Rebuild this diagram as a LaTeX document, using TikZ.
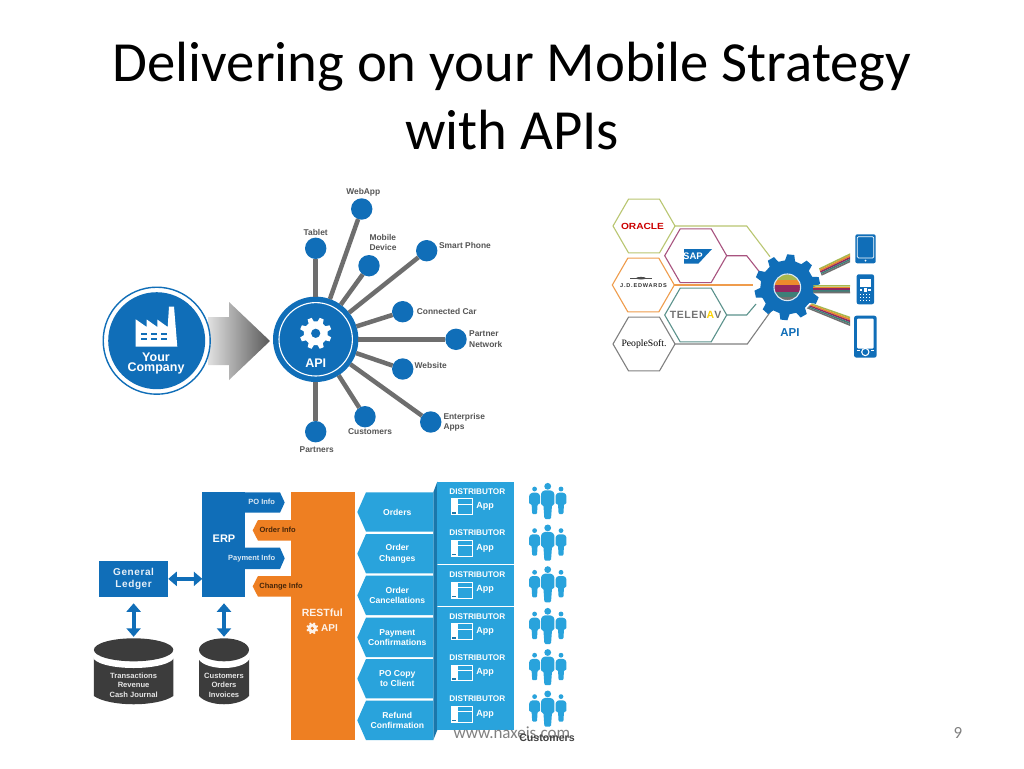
\documentclass[tikz,border=0pt]{standalone}
\usepackage{fontspec}
\usepackage{graphicx}
\setmainfont{Carlito}
\setsansfont{Liberation Sans}
\usetikzlibrary{arrows.meta,calc,shapes.geometric}
\definecolor{db}{HTML}{106EB8}
\definecolor{lb}{HTML}{29A3DC}
\definecolor{fold}{HTML}{1A77AB}
\definecolor{ora}{HTML}{EE7F22}
\definecolor{spoke}{HTML}{6E6E6E}
\definecolor{labgray}{HTML}{555555}
\definecolor{cyl}{HTML}{3C3C3C}
\definecolor{bandA}{HTML}{A7B84E}
\definecolor{bandB}{HTML}{EC8A2C}
\definecolor{bandC}{HTML}{92285F}
\definecolor{bandD}{HTML}{3E7F78}
\definecolor{bandE}{HTML}{707070}
\newcommand{\fsz}[1]{\fontsize{#1}{#1}\selectfont}
\newcommand{\geardraw}[7]{% cx cy teeth outer root colour rotation
  \pgfmathsetmacro{\gs}{360/#3}
  \begin{scope}[shift={(#1,#2)},rotate=#7]
  \fill[#6] ({-0.3*\gs}:#5) \foreach \k in {1,...,#3} {
     -- ({(\k-1)*\gs-0.17*\gs}:#4) -- ({(\k-1)*\gs+0.17*\gs}:#4) -- ({(\k-1)*\gs+0.3*\gs}:#5) -- ({\k*\gs-0.3*\gs}:#5)
  } -- cycle;
  \end{scope}}
\newcommand{\bandfan}[4]{%
  \foreach \c/\p/\q in {bandA/0/0.2,bandB/0.2/0.4,bandC/0.4/0.6,bandD/0.6/0.8,bandE/0.8/1}{
    \fill[\c] ($(#1)!\p!(#2)$) -- ($(#3)!\p!(#4)$) -- ($(#3)!\q!(#4)$) -- ($(#1)!\q!(#2)$) -- cycle;
  }}
\newcommand{\chevrow}[3]{%
  \fill[lb] (433.3,#1) -- (366,#1) -- (357.3,#1+19.7) -- (366,#1+39.4) -- (433.3,#1+39.4) -- cycle;
  \node[chevtxt] (#2) at (397.3,#1+19.7) {#3};}
\newcommand{\distrow}[2]{%
  \fill[lb] (437.3,#1) rectangle (514.3,#1+40.8);
  \node[disttxt] (#2d) at (477.3,#1+9.6) {DISTRIBUTOR};
  \draw[white,line width=1,fill=lb] (451,#1+17.2) rectangle (472,#1+33);
  \fill[white] (451,#1+17.2) rectangle (458,#1+33);
  \fill[fold] (452,#1+30.5) rectangle (455.5,#1+32);
  \draw[white,line width=0.8] (458,#1+22.5) -- (472,#1+22.5);
  \node[disttxt,font=\sffamily\bfseries\fsz{9}] (#2a) at (485,#1+24.6) {App};
  \begin{scope}[shift={(0,#1-481.7)}]
  \fill[lb] (547.7,486.3) circle (3.4);
  \fill[lb,rounded corners=1.2] (541,505) -- (541,493) -- (544,490.3) -- (551.4,490.3) -- (554.4,493) -- (554.4,505) -- (552,505) -- (551,519) -- (544.4,519) -- (543.4,505) -- cycle;
  \foreach \dx in {534.6,561}{
    \fill[lb] (\dx,489) circle (2.4);
    \fill[lb,rounded corners=1] (\dx-5.4,504) -- (\dx-5.4,495) -- (\dx-3,492.7) -- (\dx+3,492.7) -- (\dx+5.4,495) -- (\dx+5.4,504) -- (\dx+3,504) -- (\dx+2.4,514) -- (\dx-2.4,514) -- (\dx-3,504) -- cycle;
  }
  \end{scope}}
\newcommand{\cylinder}[7]{% cx rx name t1 t2 t3 tcx
  \fill[cyl] (#1-#2,656) -- (#1-#2,696) .. controls (#1-#2*0.6,707) and (#1+#2*0.6,707) .. (#1+#2,696) -- (#1+#2,656) -- cycle;
  \fill[white] (#1,656.5) ellipse ({#2+1} and 11.5);
  \node[ellipse,fill=cyl,minimum width=2*#2,minimum height=23,inner sep=0,outer sep=0] (#3) at (#1,649.8) {};
  \node[cyltxt] (#3a) at (#1,675.5) {#4};
  \node[cyltxt] (#3b) at (#1,685) {#5};
  \node[cyltxt] (#3c) at (#1,694.3) {#6};}
\tikzset{
  sat/.style={circle,fill=db,minimum size=21.4,inner sep=0,outer sep=0},
  spokeline/.style={spoke,line width=4.5},
  lbl/.style={font=\sffamily\bfseries\fontsize{8.4}{10.5}\selectfont,text=labgray,inner sep=0,align=center},
  lbll/.style={lbl,align=left},
  hex/.style={regular polygon,regular polygon sides=6,minimum size=62,inner sep=0,outer sep=0,line width=1.1,fill=white,draw=#1},
  feed/.style={line width=1.1},
  chevtxt/.style={font=\sffamily\bfseries\fontsize{8.6}{10.6}\selectfont,text=white,inner sep=0,align=center},
  disttxt/.style={font=\sffamily\bfseries\fsz{8.2},text=white,inner sep=0},
  cyltxt/.style={font=\sffamily\bfseries\fsz{7.6},text=white!90!black,inner sep=0},
  block/.style={fill=db,inner sep=0,outer sep=0,text=white,font=\sffamily\bfseries\fontsize{10.5}{12.6}\selectfont,align=center},
  tabtxt/.style={font=\sffamily\bfseries\fsz{7.5},inner sep=0},
  dblarrow/.style={db,line width=4,{Triangle[length=8.5,width=14]}-{Triangle[length=8.5,width=14]}},
}
\begin{document}
\begin{tikzpicture}[x=1pt,y=-1pt]
\useasboundingbox (0,0) rectangle (1024,768);
\fill[white] (0,0) rectangle (1024,768);

% title
\node[font=\fontsize{56.7}{68}\selectfont,align=center,inner sep=0,text=black] (title) at (512,96) {Delivering on your Mobile Strategy\\with APIs};

% ---- upper left: API hub
\shade[left color=black!12,right color=black!65] (208,317) -- (229,317) -- (229,302) -- (270,341) -- (229,380) -- (229,365) -- (208,365) -- cycle;
\node[circle,draw=db,line width=1.4,fill=white,minimum size=107,inner sep=0] (cring) at (156.7,340.7) {};
\node[circle,fill=db,minimum size=97,inner sep=0] (company) at (156.7,340.7) {};
\fill[white] (135.7,346.7) -- (135.7,319.3) -- (146.7,327) -- (146.7,319.5) -- (157.3,327) -- (157.3,319.5) -- (167.7,327) -- (169,306.7) -- (174,306.7) -- (177.3,346.7) -- cycle;
\foreach \wx in {140.7,150.7,160.7}{\foreach \wy in {332.7,337.7}{\fill[db] (\wx,\wy) rectangle (\wx+6,\wy+2.3);}}
\node[font=\sffamily\bfseries\fontsize{12.5}{10.8}\selectfont,text=white,align=center,inner sep=0] (yc) at (156,363.5) {Your\\Company};

\node[circle,fill=db,minimum size=85.4,inner sep=0,outer sep=0] (api) at (315.7,339.3) {};
\draw[white,line width=1.1] (api.center) circle (36.7);
\geardraw{315.7}{333.3}{8}{16}{12}{white}{22.5}
\fill[db] (315.7,333.3) circle (4.6);
\node[font=\sffamily\bfseries\fsz{12.5},text=white,inner sep=0] (apit) at (315.7,363.5) {API};

\node[sat] (webapp) at (361.7,209) {};
\node[sat] (tablet) at (315.7,248.3) {};
\node[sat] (mobile) at (369,265.7) {};
\node[sat] (smart) at (426.7,250.7) {};
\node[sat] (car) at (402.7,311.7) {};
\node[sat] (partner) at (456,339.3) {};
\node[sat] (website) at (402.7,369) {};
\node[sat] (enter) at (430.7,422) {};
\node[sat] (cust) at (365,416.7) {};
\node[sat] (partners) at (315.7,431.7) {};
\foreach \s in {webapp,tablet,mobile,smart,car,partner,website,enter,cust,partners}{\draw[spokeline] (api) -- (\s);}
\node[lbl] (lwebapp) at (363.3,192.7) {WebApp};
\node[lbl] (ltablet) at (315.7,232.3) {Tablet};
\node[lbll,anchor=west] (lmobile) at (369.3,242.7) {Mobile\\Device};
\node[lbl] (lsmart) at (465,245.7) {Smart Phone};
\node[lbl] (lcar) at (446.7,311.3) {Connected Car};
\node[lbll,anchor=west] (lpartner) at (469,339.3) {Partner\\Network};
\node[lbl] (lwebsite) at (430.7,365.3) {Website};
\node[lbll,anchor=west] (lenter) at (443.3,422.3) {Enterprise\\Apps};
\node[lbl] (lcust) at (370,431.3) {Customers};
\node[lbl] (lpartners) at (316.7,449.7) {Partners};

% ---- upper right: hexagons, gear, devices
\coordinate (o1) at (746.7,226); \coordinate (o2) at (770,256.7);
\coordinate (s1) at (746.7,255.7); \coordinate (s2) at (759.3,271.7);
\coordinate (j2) at (753,285);
\coordinate (t1) at (746.7,315); \coordinate (t2) at (756,304);
\coordinate (p1) at (747.3,344); \coordinate (p2) at (771.7,310);
\node[hex=bandA!80!white] (oracle) at (644,226) {};
\node[hex=bandC!80!white] (sap) at (695.7,255.7) {};
\node[hex=bandB!85!white] (jde) at (643.3,285) {};
\node[hex=bandD!85!white] (telenav) at (695.7,315) {};
\node[hex=black!50] (psoft) at (644,344) {};
\draw[feed,bandA!80!white] (oracle.east) -- (o1) -- (o2);
\draw[feed,bandC!80!white] (sap.east) -- (s1) -- (s2);
\draw[feed,bandB!85!white] (jde.east) -- (j2);
\draw[feed,bandD!85!white] (telenav.east) -- (t1) -- (t2);
\draw[feed,black!50] (psoft.east) -- (p1) -- (p2);
\node[inner sep=0] (orlogo) at (642.5,226) {\resizebox{43pt}{6.2pt}{\sffamily\bfseries\textcolor{red!80!black}{ORACLE}}};
\fill[db] (684,249) -- (712,249) -- (698.5,263.5) -- (684,263.5) -- cycle;
\node[font=\sffamily\bfseries\fsz{9.5},text=white,inner sep=0] (saplogo) at (693,256.3) {SAP};
\fill[black!70] (641,278.2) ellipse (5 and 1.3);
\draw[black!70,line width=0.5] (630,278.2) -- (652,278.2);
\node[font=\sffamily\bfseries\fsz{5.6},text=black!80,inner sep=0] (jdelogo) at (643.5,286) {\addfontfeatures{LetterSpace=14}J.D.EDWARDS};
\node[font=\sffamily\bfseries\fsz{10.5},inner sep=0,text=black!55] (tlogo) at (695.5,315) {\addfontfeatures{LetterSpace=6}TELEN\textcolor{yellow!70!orange}{A}V};
\node[font=\rmfamily\fsz{13},inner sep=0] (plogo) at (644,344) {\fontspec{Liberation Serif}\resizebox{45pt}{!}{PeopleSoft.}};

\geardraw{787.3}{287.3}{10}{33}{27}{db}{12}
\begin{scope}
\clip (787.3,287.3) circle (13);
\fill[bandA] (770,274) rectangle (805,280);
\fill[bandB] (770,280) rectangle (805,285);
\fill[bandC] (770,285) rectangle (805,292);
\fill[bandD] (770,292) rectangle (805,297);
\fill[bandE] (770,297) rectangle (805,301);
\end{scope}
\draw[white!85!db,line width=1.1] (787.3,287.3) circle (13.3);
\node[font=\sffamily\bfseries\fsz{11.5},text=db,inner sep=0] (gapi) at (790,332.3) {API};

\coordinate (ba1) at (819,268.3); \coordinate (ba2) at (821.7,275.7); \coordinate (ba3) at (850,253.3); \coordinate (ba4) at (850,262.3);
\bandfan{ba1}{ba2}{ba3}{ba4}
\coordinate (bb1) at (813.3,285); \coordinate (bb2) at (813.3,293.3); \coordinate (bb3) at (850,285); \coordinate (bb4) at (850,293.3);
\bandfan{bb1}{bb2}{bb3}{bb4}
\coordinate (bc1) at (811.7,303.3); \coordinate (bc2) at (806.7,308.3); \coordinate (bc3) at (850,316.7); \coordinate (bc4) at (850,326);
\bandfan{bc1}{bc2}{bc3}{bc4}

% devices
\fill[db,rounded corners=2] (855.3,234.3) rectangle (875.7,263.3);
\draw[white,line width=0.7,rounded corners=1.2,fill=db] (857.3,236.7) rectangle (873.7,258);
\fill[white] (865.5,260.6) circle (1);
\fill[db,rounded corners=2] (856.7,274.3) rectangle (874,304.3);
\fill[white] (860,279.3) rectangle (871,286.5);
\fill[white] (863.6,288) rectangle (867.2,292.4);
\foreach \ky in {294,297,300}{\foreach \kx in {860,863,866,869}{\fill[white] (\kx,\ky) rectangle (\kx+1.4,\ky+1.3);}}
\fill[white] (860,289) rectangle (862.4,291);
\fill[white] (868.4,289) rectangle (870.8,291);
\fill[db,rounded corners=2.5] (854,315.7) rectangle (876.7,357.7);
\fill[white,rounded corners=1] (857,318.7) rectangle (873.7,348.5);
\fill[white] (865.3,352) circle (4.2);
\fill[db] (865.3,352) circle (2.9);
\fill[white] (856.5,350.3) rectangle (860,351.2);
\fill[white] (870.7,350.3) rectangle (874.2,351.2);

% ---- lower left: ERP system
\node[block,minimum width=69.3,minimum height=35.7,font=\sffamily\bfseries\fontsize{10}{12.6}\selectfont,text=white!90!db] (gl) at (133.6,578.85) {\addfontfeatures{LetterSpace=6}General\\\addfontfeatures{LetterSpace=6}Ledger};
\node[block,minimum width=42.7,minimum height=104.4] (erp) at (223.65,544.5) {};
\node[font=\sffamily\bfseries\fsz{11},text=white,inner sep=0] (erpt) at (224,539) {ERP};
\fill[db] (245,492.3) -- (280,492.3) -- (284.7,502.5) -- (280,512.7) -- (245,512.7) -- cycle;
\fill[db] (245,547.7) -- (280,547.7) -- (284.7,558.3) -- (280,569) -- (245,569) -- cycle;
\node[tabtxt,text=white!85!db] (poinfo) at (261.7,502.3) {PO Info};
\node[tabtxt,text=white!85!db] (payinfo) at (251.7,559) {Payment Info};

\node[fill=ora,minimum width=64.3,minimum height=248,inner sep=0,outer sep=0] (rest) at (323.15,616.3) {};
\fill[ora] (291,520) -- (258,520) -- (252.7,530.3) -- (258,540.7) -- (291,540.7) -- cycle;
\fill[ora] (291,576) -- (258,576) -- (252.7,586.3) -- (258,596.7) -- (291,596.7) -- cycle;
\node[tabtxt,text=black!70!ora] (ordinfo) at (277.7,530) {Order Info};
\node[tabtxt,text=black!70!ora] (chginfo) at (281,586.7) {Change Info};
\node[font=\sffamily\bfseries\fsz{10.5},text=white!90!ora,inner sep=0] (restt) at (322.3,612.7) {RESTful};
\geardraw{312.3}{628.3}{8}{6}{4.5}{white!90!ora}{22.5}
\fill[ora] (312.3,628.3) circle (1.7);
\node[font=\sffamily\bfseries\fsz{10},text=white!90!ora,inner sep=0] (restapi) at (329.5,628.3) {API};

\cylinder{133.6}{39.7}{cyla}{Transactions}{Revenue}{Cash Journal}{0}
\cylinder{224}{25}{cylb}{Customers}{Orders}{Invoices}{0}
\draw[dblarrow] (gl.east) -- (gl.east -| erp.west);
\coordinate (v1a) at ($(gl.south)+(0,6.6)$);
\coordinate (v1b) at ($(cyla.north)+(0,-1.5)$);
\draw[dblarrow] (v1a) -- (v1b);
\coordinate (v2a) at ($(cylb.north |- erp.south)+(0,6.6)$);
\coordinate (v2b) at ($(cylb.north)+(0,-1.5)$);
\draw[dblarrow] (v2a) -- (v2b);

% ---- lower right: chevrons, distributors, people
\fill[fold] (433.3,492.3) -- (437.3,481.7) -- (437.3,730) -- (433.3,740) -- cycle;
\chevrow{492.3}{ca}{Orders}
\chevrow{534}{cb}{Order\\Changes}
\chevrow{575.7}{cc}{Order\\Cancellations}
\chevrow{617.7}{cd}{Payment\\Confirmations}
\chevrow{659}{ce}{PO Copy\\to Client}
\chevrow{700.7}{cf}{Refund\\Confirmation}
\distrow{481.7}{da}
\distrow{523.3}{db}
\distrow{565}{dc}
\distrow{606.7}{dd}
\distrow{647.9}{de}
\distrow{689.3}{df}

% footer
\node[font=\fsz{17},text=black!50,inner sep=0] (foot) at (512,733) {www.naxeis.com};
\node[font=\sffamily\bfseries\fsz{10.6},text=black!75,inner sep=0] (custt) at (547,737.5) {Customers};
\node[font=\fsz{17},text=black!50,inner sep=0] (pageno) at (958,733) {9};
\end{tikzpicture}
\end{document}
